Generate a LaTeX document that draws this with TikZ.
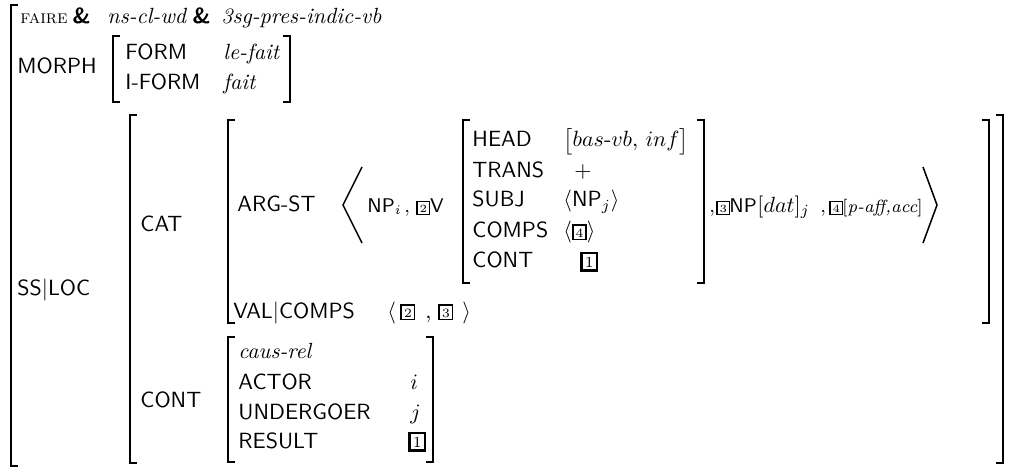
\documentclass[tikz,border=0pt]{standalone}
\usepackage{fontspec}
\usepackage{amsmath}

% boxed structure-sharing tags: small (inside the list), medium, large
\newcommand\tg[1]{{\setlength\fboxsep{0.5pt}\setlength\fboxrule{0.7pt}%
  \fbox{\makebox[3.8pt]{\rule[-0.2pt]{0pt}{4.2pt}\fontsize{5}{5}\selectfont #1}}}}
\newcommand\tgm[1]{{\setlength\fboxsep{0.5pt}\setlength\fboxrule{0.75pt}%
  \fbox{\makebox[4.3pt]{\rule[-0.2pt]{0pt}{4.8pt}\fontsize{5.8}{6}\selectfont #1}}}}
\newcommand\tgbig[1]{{\setlength\fboxsep{0.8pt}\setlength\fboxrule{0.95pt}%
  \fbox{\makebox[4.6pt]{\rule[-0.3pt]{0pt}{5.4pt}\scriptsize #1}}}}
% hyphen inside math-italic type names
\newcommand\hy{\mbox{-}}

% square brackets of the attribute-value matrices
\newcommand\avmlb[3]{\draw[brk] (#1+7,#2) -| (#1,#3) -- (#1+7,#3);}
\newcommand\avmrb[3]{\draw[brk] (#1-7,#2) -| (#1,#3) -- (#1-7,#3);}

\begin{document}
\begin{tikzpicture}[x=0.454545pt, y=-0.454545pt]
\tikzset{
  brk/.style={line width=1pt},
  angl/.style={line width=0.7pt, line join=miter},
  lbl/.style={anchor=base west, inner sep=0pt, font=\sffamily},
  val/.style={anchor=base west, inner sep=0pt},
  sm/.style={anchor=base west, inner sep=0pt, font=\small},
}
\useasboundingbox (0,0) rectangle (1010,468);

% outer matrix
\avmlb{11}{5}{466}
\node[val] (faire) at (20,24) {\fontsize{8.5}{9}\selectfont\textsc{faire}};
\node[val] (amp1)  at (72,24) {\sffamily\bfseries\&};
\node[val] (ty1)   at (107,24) {\textit{ns-cl-wd}};
\node[val] (amp2)  at (192,24) {\sffamily\bfseries\&};
\node[val] (ty2)   at (221,24) {\textit{3sg-pres-indic-vb}};

% MORPH
\node[lbl] (morph) at (17,74) {MORPH};
\avmlb{113}{36}{102}
\avmrb{290}{36}{102}
\node[lbl] (form)  at (125,60) {FORM};
\node[val] (formv) at (223,60) {\textit{le-fait}};
\node[lbl] (iform) at (125,90) {I-FORM};
\node[val] (iformv) at (223,90) {\textit{fait}};

% SS|LOC
\node[lbl] (ssloc) at (17,295) {SS$|$LOC};
\avmlb{130}{115}{463}
\avmrb{1003}{115}{463}

% CAT
\node[lbl] (cat) at (140,231) {CAT};
\avmlb{228}{120}{323}
\avmrb{989}{120}{323}

% ARG-ST list
\node[lbl] (argst) at (237,211) {ARG-ST};
\draw[angl] (362,167) -- (343,205) -- (362,243);
\node[sm] (np1) at (367,212) {\sffamily NP$_i$};
\node[sm] (cm1) at (404,212) {,};
\node[sm] (v2)  at (416,212) {\tg{2}\sffamily V};

% embedded verb matrix
\avmlb{463}{120}{283}
\avmrb{704}{120}{283}
\node[lbl] (head)  at (472,147) {HEAD};
\node[val] (headv) at (563,147) {$\bigl[bas\hy vb,\,inf\bigr]$};
\node[lbl] (trans) at (472,177) {TRANS};
\node[val] (transv) at (574,177) {$+$};
\node[lbl] (subj)  at (472,207) {SUBJ};
\node[val] (subjv) at (563,207) {$\langle$\textsf{NP}$_j\rangle$};
\node[lbl] (comps) at (472,237) {COMPS};
\node[val] (compsv) at (563,237) {$\langle$\tgm{4}$\rangle$};
\node[lbl] (cont1) at (472,267) {CONT};
\node[val] (cont1v) at (580,267) {\tgbig{1}};

\node[sm] (cm2)  at (709,212) {,};
\node[sm] (tag3) at (716,212) {\tg{3}};
\node[sm] (np3)  at (729,212) {\sffamily NP};
\node[sm] (dat)  at (757,212) {\normalsize$[dat]_j$};
\node[sm] (cm3)  at (820,212) {,};
\node[sm] (tag4) at (829,212) {\tg{4}};
\node[sm] (paff) at (842,212) {\footnotesize[\textit{p-aff,acc}]};
\draw[angl] (923,167) -- (937,205) -- (923,243);

% VAL|COMPS
\node[lbl] (valcomps) at (233,318) {VAL$|$COMPS};
\node[val] (vl)  at (387,318) {$\langle$};
\node[val] (vt2) at (400,317) {\tgm{2}};
\node[val] (vcm) at (425,318) {,};
\node[val] (vt3) at (438,317) {\tgm{3}};
\node[val] (vr)  at (462,318) {$\rangle$};

% CONT
\node[lbl] (cont) at (140,407) {CONT};
\avmlb{228}{337}{462}
\avmrb{433}{337}{462}
\node[val] (caus) at (238,358) {\textit{caus-rel}};
\node[lbl] (actor) at (238,389) {ACTOR};
\node[val] (actorv) at (410,389) {$i$};
\node[lbl] (under) at (238,419) {UNDERGOER};
\node[val] (underv) at (410,419) {$j$};
\node[lbl] (result) at (238,448) {RESULT};
\node[val] (resultv) at (408,447) {\tgbig{1}};
\end{tikzpicture}
\end{document}
